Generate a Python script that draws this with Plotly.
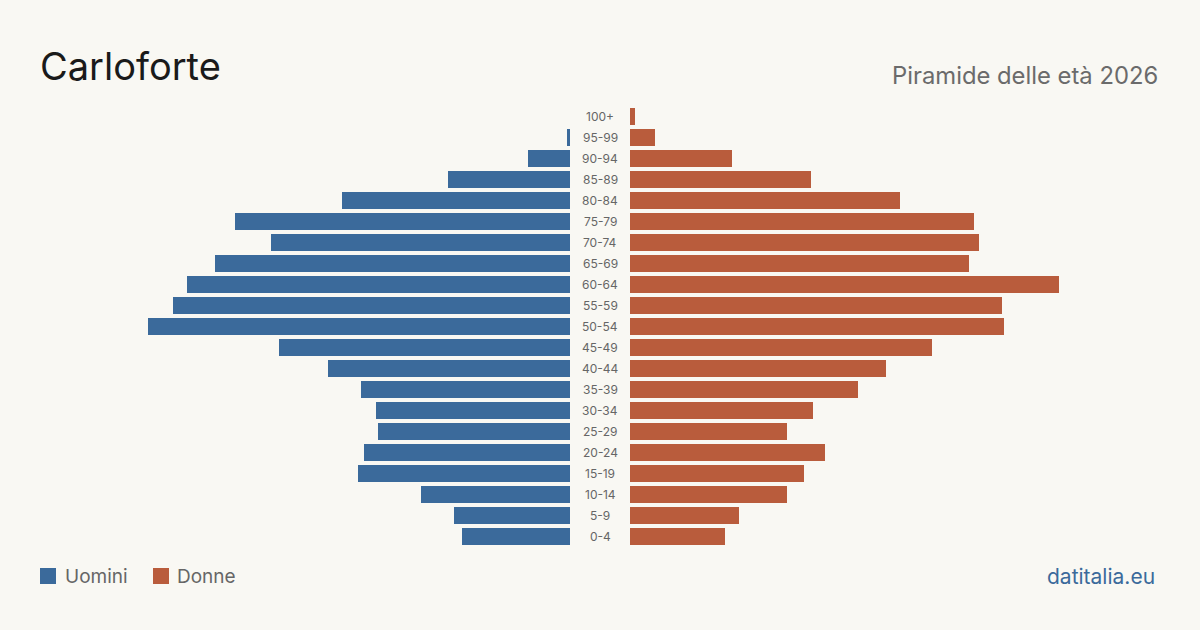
import plotly.graph_objects as go

age_groups = ["0-4", "5-9", "10-14", "15-19", "20-24", "25-29", "30-34", "35-39",
              "40-44", "45-49", "50-54", "55-59", "60-64", "65-69", "70-74", "75-79",
              "80-84", "85-89", "90-94", "95-99", "100+"]
uomini = [70, 75, 96, 137, 133, 124, 125, 135, 156, 188, 272, 256, 247, 229, 193, 216,
          147, 79, 27, 2, 0]
donne = [61, 70, 101, 112, 126, 101, 118, 147, 165, 195, 241, 240, 277, 219, 225, 222,
         174, 117, 66, 16, 3]

BLUE = "#3b6a9b"
ORANGE = "#b95c3c"
BG = "#f9f8f3"
FONT = "Inter"

W, H = 1200, 630
TOP, BOTTOM = 106, 83
plot_h = H - TOP - BOTTOM
PX_PER_UNIT = 1.55
axis_max = 570 / PX_PER_UNIT


def py(y_px):
    return (H - BOTTOM - y_px) / plot_h


fig = go.Figure()
fig.add_trace(go.Bar(y=age_groups, x=uomini, orientation="h",
                     marker=dict(color=BLUE, line=dict(width=0)),
                     width=0.81, xaxis="x", yaxis="y", name="Uomini",
                     hovertemplate="%{y}: %{x}<extra>Uomini</extra>"))
fig.add_trace(go.Bar(y=age_groups, x=donne, orientation="h",
                     marker=dict(color=ORANGE, line=dict(width=0)),
                     width=0.81, xaxis="x2", yaxis="y", name="Donne",
                     hovertemplate="%{y}: %{x}<extra>Donne</extra>"))

annotations = []
for g in age_groups:
    annotations.append(dict(x=0.5, y=g, xref="paper", yref="y", text=g, showarrow=False,
                            font=dict(family=FONT, size=12, color="#666666"),
                            xanchor="center", yanchor="middle"))

annotations += [
    dict(x=38 / W, y=py(66), xref="paper", yref="paper", text="Carloforte", showarrow=False,
         xanchor="left", yanchor="middle", font=dict(family=FONT, size=38, color="#1a1a1a")),
    dict(x=1160 / W, y=py(76), xref="paper", yref="paper", text="Piramide delle età 2026",
         showarrow=False, xanchor="right", yanchor="middle",
         font=dict(family=FONT, size=23.8, color="#6b6b6b")),
    dict(x=63 / W, y=py(576), xref="paper", yref="paper", text="Uomini", showarrow=False,
         xanchor="left", yanchor="middle", font=dict(family=FONT, size=19, color="#666666")),
    dict(x=175 / W, y=py(576), xref="paper", yref="paper", text="Donne", showarrow=False,
         xanchor="left", yanchor="middle", font=dict(family=FONT, size=19, color="#666666")),
    dict(x=1157 / W, y=py(576), xref="paper", yref="paper", text="datitalia.eu",
         showarrow=False, xanchor="right", yanchor="middle",
         font=dict(family=FONT, size=21, color=BLUE)),
]

shapes = [
    dict(type="rect", xref="paper", yref="paper", x0=40 / W, x1=56 / W, y0=py(584), y1=py(568),
         fillcolor=BLUE, line_width=0),
    dict(type="rect", xref="paper", yref="paper", x0=153 / W, x1=169 / W, y0=py(584), y1=py(568),
         fillcolor=ORANGE, line_width=0),
]

fig.update_layout(
    width=W, height=H,
    margin=dict(l=0, r=0, t=TOP, b=BOTTOM),
    paper_bgcolor=BG, plot_bgcolor=BG,
    showlegend=False,
    bargap=0,
    xaxis=dict(domain=[0, 570 / W], range=[axis_max, 0], visible=False, fixedrange=True),
    xaxis2=dict(domain=[630 / W, 1], range=[0, axis_max], visible=False, anchor="y",
                fixedrange=True),
    yaxis=dict(categoryorder="array", categoryarray=age_groups, range=[-0.5, 20.5],
               visible=False, fixedrange=True),
    annotations=annotations,
    shapes=shapes,
    font=dict(family=FONT),
)

fig.write_html("out.html")
